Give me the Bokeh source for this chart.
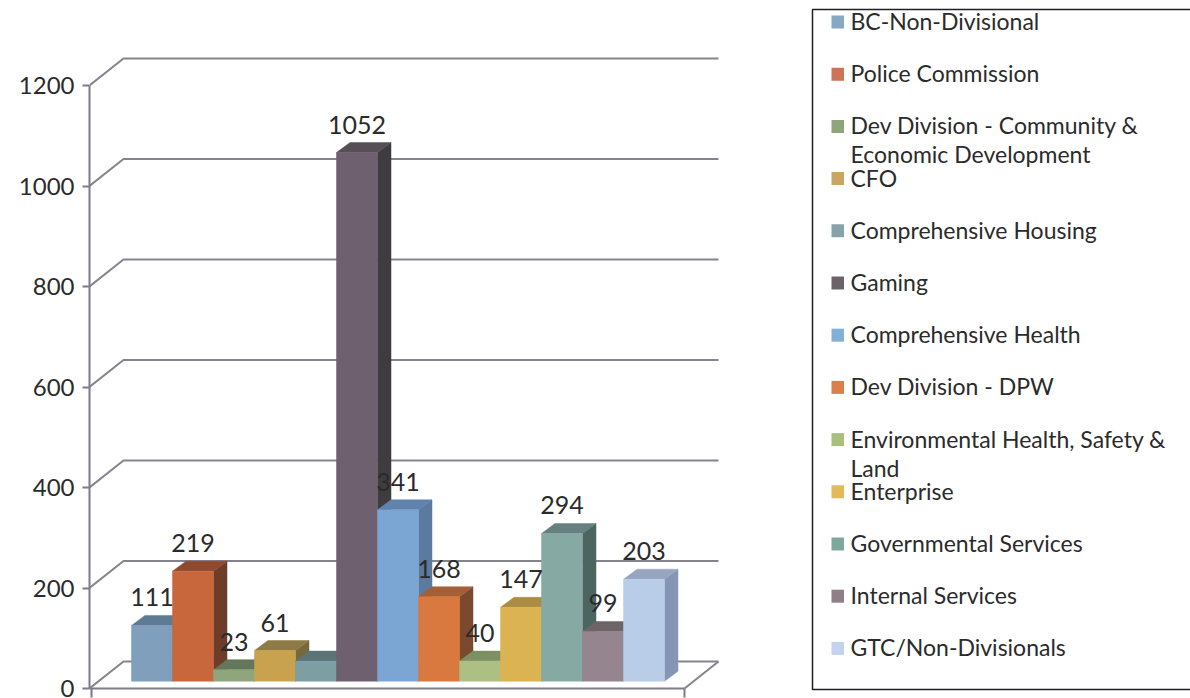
from bokeh.embed import file_html
from bokeh.resources import INLINE
from bokeh.plotting import figure
from bokeh.models import Range1d, FixedTicker, LinearAxis, ColumnDataSource
from bokeh.core.properties import value

categories = ["BC-Non-Divisional", "Police Commission",
              "Dev Division - Community &\nEconomic Development", "CFO",
              "Comprehensive Housing", "Gaming", "Comprehensive Health",
              "Dev Division - DPW", "Environmental Health, Safety &\nLand",
              "Enterprise", "Governmental Services", "Internal Services",
              "GTC/Non-Divisionals"]
values = [111, 219, 23, 61, 40, 1052, 341, 168, 40, 147, 294, 99, 203]
labelled = [True, True, True, True, False, True, True, True, True, True, True, True, True]
front_colors = ["#7f9fbd", "#c8673c", "#8fa67c", "#c9a24f", "#7d9fa3", "#6f6070", "#7ba6d3",
                "#d9783f", "#aebf85", "#dcb352", "#86a9a3", "#95858f", "#b9cde8"]
top_colors = ["#5f7a93", "#8e4a30", "#63775a", "#8f7a45", "#5c7476", "#565056", "#5f83ac",
              "#a55f38", "#7d9064", "#ab8c42", "#65807e", "#6d6468", "#97a6c0"]
side_colors = ["#5a7490", "#6e3d2a", "#55684c", "#77693e", "#4f6668", "#3e3c3e", "#5b7a9e",
               "#7b4a2e", "#657a55", "#94793c", "#4d6560", "#5b5558", "#8596b4"]
legend_colors = ["#86a8c4", "#cf7358", "#8fa67c", "#c9a763", "#86a3a8", "#6d6269", "#82b1d8",
                 "#de7f4b", "#aabf7e", "#e3b95a", "#7fa89c", "#8e7f88", "#c3d3ee"]
y_ticks = [0, 200, 400, 600, 800, 1000, 1200]

W, H = 1190, 698
LEFT = 89
ZERO_ROW = 688
PX_PER_UNIT = 0.5025
frame_w = W - LEFT

p = figure(width=W, height=H, output_backend="svg", toolbar_location=None,
           x_range=Range1d(LEFT, LEFT + frame_w),
           y_range=Range1d((ZERO_ROW - H) / PX_PER_UNIT, ZERO_ROW / PX_PER_UNIT),
           min_border_left=LEFT, min_border_right=0, min_border_top=0, min_border_bottom=0,
           y_axis_type=None, x_axis_type=None, outline_line_color=None)
p.grid.visible = False

AXIS = "#7b7b8c"
GRID = "#84848f"
FONT = "Lato"
TEXT = "#2b2b2b"


def py(page_y):
    """Page pixel row -> value on the y scale."""
    return (ZERO_ROW - page_y) / PX_PER_UNIT


WALL_DX, WALL_DY = 34, 27 / PX_PER_UNIT
X0, X1 = 89, 684

yaxis = LinearAxis(ticker=FixedTicker(ticks=y_ticks), bounds=(0, 1200))
yaxis.axis_line_color = AXIS
yaxis.axis_line_width = 2
yaxis.major_tick_line_color = AXIS
yaxis.major_tick_line_width = 2
yaxis.major_tick_out = 7
yaxis.major_tick_in = 0
yaxis.minor_tick_line_color = None
yaxis.major_label_text_font = FONT
yaxis.major_label_text_font_size = "24px"
yaxis.major_label_text_color = TEXT
yaxis.major_label_text_line_height = 1.0
yaxis.major_label_standoff = 8
p.add_layout(yaxis, "left")

# floor front edge and its two end ticks
p.line([X0, X1], [0, 0], line_color=AXIS, line_width=2)
p.segment([X0 + 2, X1], [0, 0], [X0 + 2, X1], [py(697), py(697)], line_color=AXIS, line_width=2)

for t in y_ticks:
    back_y = t + WALL_DY
    p.line([X0, X0 + WALL_DX, X1 + WALL_DX], [t, back_y, back_y], line_color=GRID, line_width=2)
p.line([X1, X1 + WALL_DX], [0, WALL_DY], line_color=GRID, line_width=2)

BAR_X0 = 131.0
BAR_W = 41.0
BASE = py(680.7)
DX, DY = 13.5, 10 / PX_PER_UNIT

for i, (v, fc, tc, sc) in enumerate(zip(values, front_colors, top_colors, side_colors)):
    l = BAR_X0 + i * BAR_W
    r = l + BAR_W
    top = BASE + v
    p.patch([r, r + DX, r + DX, r], [BASE, BASE + DY, top + DY, top],
            fill_color=sc, line_color=sc, line_width=0.5)
    p.patch([l, l + DX, r + DX, r], [top, top + DY, top + DY, top],
            fill_color=tc, line_color=tc, line_width=0.5)
    p.quad(left=[l], right=[r], bottom=[BASE], top=[top],
           fill_color=fc, line_color=fc, line_width=0.5)

idx = [i for i, shown in enumerate(labelled) if shown]
lab = ColumnDataSource(dict(
    x=[BAR_X0 + (i + 0.5) * BAR_W for i in idx],
    y=[BASE + values[i] + DY + 18 / PX_PER_UNIT for i in idx],
    t=[str(values[i]) for i in idx]))
p.text("x", "y", text="t", source=lab, text_font=value(FONT), text_font_size="25px",
       text_color=TEXT, text_align="center", text_baseline="middle")

# legend box (its right side runs off the picture)
BOX_L, BOX_R, BOX_T, BOX_B = 812, 1190, 9, 689
p.line([BOX_R, BOX_L, BOX_L, BOX_R],
       [py(BOX_T), py(BOX_T), py(BOX_B), py(BOX_B)],
       line_color="#1f1f2a", line_width=1.5)
ROW_Y0, ROW_PITCH = 21.5, 52.2
for i, (name, c) in enumerate(zip(categories, legend_colors)):
    yc = ROW_Y0 + i * ROW_PITCH
    p.quad(left=[831], right=[843.5], bottom=[py(yc + 6.5)], top=[py(yc - 6.5)],
           fill_color=c, line_color=None)
    for j, part in enumerate(name.split("\n")):
        p.text([850], [py(yc - 1 + j * 29)], text=[part], text_font=value(FONT),
               text_font_size="23px", text_color=TEXT, text_baseline="middle")

open("out.html", "w").write(file_html(p, INLINE))
